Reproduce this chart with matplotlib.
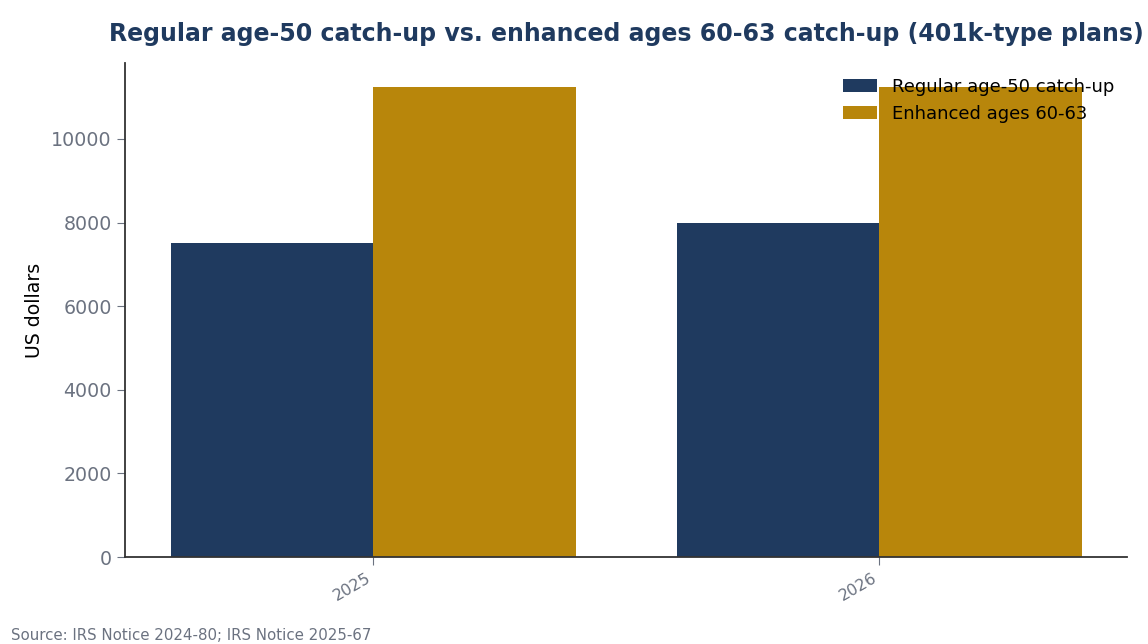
import matplotlib.pyplot as plt
import numpy as np

years = ["2025", "2026"]
regular = [7500, 8000]
enhanced = [11250, 11250]
series_names = ["Regular age-50 catch-up", "Enhanced ages 60-63"]

navy = "#1f3a5f"
gold = "#b8860b"
grey = "#6b7280"

plt.rcParams["font.family"] = ["DejaVu Sans"]

fig, ax = plt.subplots(figsize=(11.48, 6.44), dpi=100)
fig.subplots_adjust(left=0.109, right=0.982, top=0.902, bottom=0.135)

x = np.arange(len(years))
w = 0.4
ax.bar(x - w, regular, width=w, align="edge", color=navy, label=series_names[0])
ax.bar(x, enhanced, width=w, align="edge", color=gold, label=series_names[1])

ax.set_xticks(x)
ax.set_xticklabels(years, rotation=30, ha="right", fontsize=11.5, color=grey)
ax.tick_params(axis="y", labelsize=13.7, labelcolor=grey, color=grey, length=6)
ax.tick_params(axis="x", color=grey, length=6)
ax.set_ylabel("US dollars", fontsize=13.6, labelpad=5.5)

for s in ["top", "right"]:
    ax.spines[s].set_visible(False)
for s in ["left", "bottom"]:
    ax.spines[s].set_color("#333333")
    ax.spines[s].set_linewidth(1.3)

ax.set_title("Regular age-50 catch-up vs. enhanced ages 60-63 catch-up (401k-type plans)",
             fontsize=17, fontweight="bold", color=navy, pad=16)

# legend sits over the bars without a frame
ax.legend(frameon=False, fontsize=13, loc="upper right",
          bbox_to_anchor=(1.003, 1.003), handlelength=1.9)

fig.text(0.01, 0.006, "Source: IRS Notice 2024-80; IRS Notice 2025-67", fontsize=10.8, color=grey)

fig.savefig("out.png")
